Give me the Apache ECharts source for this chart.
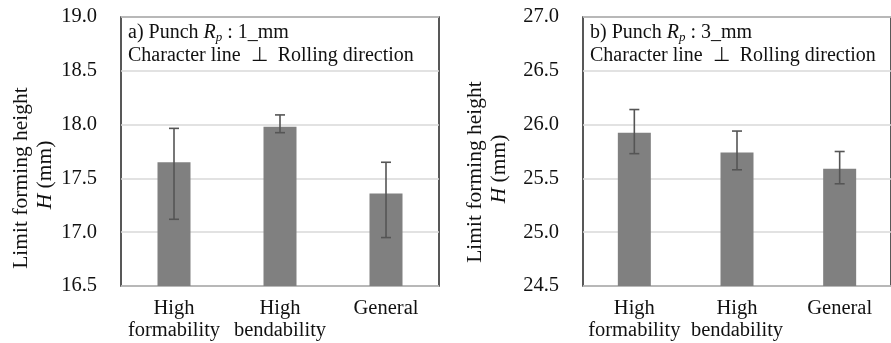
<!DOCTYPE html>
<html>
<head>
<meta charset="utf-8">
<script src="https://cdn.jsdelivr.net/npm/echarts@6/dist/echarts.min.js"></script>
<style>
html, body { margin: 0; padding: 0; background: #fff; }
#main { width: 891px; height: 343px; }
</style>
</head>
<body>
<div id="main"></div>
<script>
// categories
var categories = ['High\nformability', 'High\nbendability', 'General'];

// a) punch Rp 1 mm
var meanA = [17.65, 17.98, 17.36];
var lowA = [17.12, 17.925, 16.95];
var highA = [17.965, 18.09, 17.65];

// b) punch Rp 3 mm
var meanB = [25.925, 25.74, 25.59];
var lowB = [25.73, 25.58, 25.45];
var highB = [26.14, 25.94, 25.75];

var yRangeA = [16.5, 19.0];
var yRangeB = [24.5, 27.0];

var FONT = '"Liberation Serif", "Times New Roman", serif';

function errData(low, high) {
	var out = [];
	for (var i = 0; i < low.length; i++) {
		out.push([i, low[i], high[i]]);
	}
	return out;
}

function errRender(params, api) {
	var x = api.value(0);
	var lo = api.coord([x, api.value(1)]);
	var hi = api.coord([x, api.value(2)]);
	var cap = 5;
	var st = { stroke: '#555', lineWidth: 1.6 };
	return {
		type: 'group',
		children: [
			{ type: 'line', shape: { x1: lo[0], y1: lo[1], x2: hi[0], y2: hi[1] }, style: st },
			{ type: 'line', shape: { x1: lo[0] - cap, y1: lo[1], x2: lo[0] + cap, y2: lo[1] }, style: st },
			{ type: 'line', shape: { x1: hi[0] - cap, y1: hi[1], x2: hi[0] + cap, y2: hi[1] }, style: st }
		]
	};
}

function xAxisFor(idx) {
	return {
		type: 'category',
		gridIndex: idx,
		data: categories,
		axisTick: { show: false },
		axisLine: { show: false },
		axisLabel: {
			interval: 0,
			hideOverlap: false,
			margin: 12,
			fontFamily: FONT,
			fontSize: 20.5,
			color: '#111',
			lineHeight: 22
		}
	};
}

function yAxisFor(idx, range) {
	return {
		type: 'value',
		gridIndex: idx,
		min: range[0],
		max: range[1],
		interval: 0.5,
		axisLine: { show: false },
		axisTick: { show: false },
		axisLabel: {
			margin: 24,
			fontFamily: FONT,
			fontSize: 20.5,
			color: '#111',
			formatter: function (v) { return v.toFixed(1); }
		},
		splitLine: { show: true, lineStyle: { color: '#d9d9d9', width: 1.5 } }
	};
}

function panelText(x, y, tag, rp) {
	return {
		type: 'text',
		left: x,
		top: y,
		z: 10,
		style: {
			text: tag + ') Punch {it|R}{sub|p} : ' + rp + '_mm\nCharacter line  ⊥  Rolling direction',
			fontFamily: FONT,
			fontSize: 20,
			lineHeight: 23,
			fill: '#111',
			rich: {
				it: { fontFamily: FONT, fontSize: 20, fontStyle: 'italic', fill: '#111' },
				sub: { fontFamily: FONT, fontSize: 13, fontStyle: 'italic', fill: '#111', verticalAlign: 'bottom', padding: [9, 0, 0, 0] }
			}
		}
	};
}

function axisName(cx, cy) {
	return [
		{
			type: 'text', x: cx, y: cy, rotation: Math.PI / 2,
			style: {
				text: 'Limit forming height', fontFamily: FONT, fontSize: 21.5, fill: '#111',
				align: 'center', verticalAlign: 'middle'
			}
		},
		{
			type: 'text', x: cx + 24, y: cy - 3, rotation: Math.PI / 2,
			style: {
				text: '{i|H} (mm)', fontFamily: FONT, fontSize: 21.5, fill: '#111',
				align: 'center', verticalAlign: 'middle',
				rich: { i: { fontFamily: FONT, fontSize: 21.5, fontStyle: 'italic', fill: '#111' } }
			}
		}
	];
}

var myChart = echarts.init(document.getElementById('main'));
var option = {
	backgroundColor: '#fff',
	animation: false,
	grid: [
		{ left: 121, top: 17, width: 318, height: 269, show: true, borderColor: '#222', borderWidth: 1.5, backgroundColor: 'transparent' },
		{ left: 583, top: 17, width: 318, height: 269, show: true, borderColor: '#222', borderWidth: 1.5, backgroundColor: 'transparent' }
	],
	xAxis: [xAxisFor(0), xAxisFor(1)],
	yAxis: [yAxisFor(0, yRangeA), yAxisFor(1, yRangeB)],
	graphic: [
		panelText(128, 21, 'a', '1'),
		panelText(590, 21, 'b', '3')
	].concat(axisName(21, 178)).concat(axisName(475, 172)),
	series: [
		{
			type: 'bar', xAxisIndex: 0, yAxisIndex: 0, data: meanA,
			barWidth: 33, itemStyle: { color: '#808080' }
		},
		{
			type: 'custom', xAxisIndex: 0, yAxisIndex: 0, data: errData(lowA, highA),
			renderItem: errRender, z: 5
		},
		{
			type: 'bar', xAxisIndex: 1, yAxisIndex: 1, data: meanB,
			barWidth: 33, itemStyle: { color: '#808080' }
		},
		{
			type: 'custom', xAxisIndex: 1, yAxisIndex: 1, data: errData(lowB, highB),
			renderItem: errRender, z: 5
		}
	]
};
myChart.setOption(option);
</script>
</body>
</html>
